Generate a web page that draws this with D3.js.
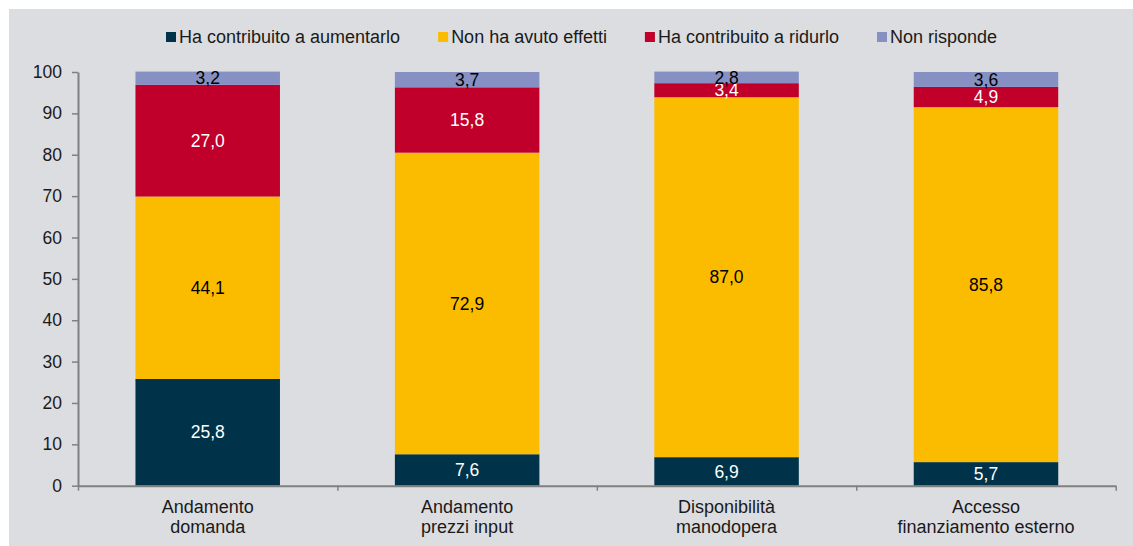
<!DOCTYPE html>
<html>
<head>
<meta charset="utf-8">
<script src="https://cdn.jsdelivr.net/npm/d3@7"></script>
<style>
  body { margin: 0; background: #ffffff; }
  svg { display: block; font-family: "Liberation Sans", Arial, sans-serif; }
</style>
</head>
<body>
<div class="main"></div>
<script>
// Dati (percentuali)
const categories = [
  ["Andamento", "domanda"],
  ["Andamento", "prezzi input"],
  ["Disponibilità", "manodopera"],
  ["Accesso", "finanziamento esterno"]
];
const seriesNames = ["Ha contribuito a aumentarlo", "Non ha avuto effetti", "Ha contribuito a ridurlo", "Non risponde"];
const aumentarlo = [25.8, 7.6, 6.9, 5.7];
const nessunEffetto = [44.1, 72.9, 87.0, 85.8];
const ridurlo = [27.0, 15.8, 3.4, 4.9];
const nonRisponde = [3.2, 3.7, 2.8, 3.6];
const yTicks = [0, 10, 20, 30, 40, 50, 60, 70, 80, 90, 100];

const colors = ["#003349", "#fbbc00", "#c0002a", "#8690c2"];
const labelColors = ["#ffffff", "#000000", "#ffffff", "#000000"];

const W = 1133, H = 546;
const margin = { top: 72, right: 17.3, bottom: 60.3, left: 78 };

const svg = d3.select(".main").append("svg")
    .attr("width", W)
    .attr("height", H);

// sfondo grigio
svg.append("rect")
    .attr("x", 9).attr("y", 9)
    .attr("width", W - 9).attr("height", H - 9)
    .attr("fill", "#dcdde0");

const keys = seriesNames;
const seriesValues = [aumentarlo, nessunEffetto, ridurlo, nonRisponde];
const rows = categories.map(function (c, i) {
  const r = { cat: c.join(" ") };
  keys.forEach(function (k, j) { r[k] = seriesValues[j][i]; });
  return r;
});

const x = d3.scaleBand()
    .domain(rows.map(function (d) { return d.cat; }))
    .range([margin.left, W - margin.right])
    .paddingInner(0.443)
    .paddingOuter(0.2215);

const y = d3.scaleLinear()
    .domain([0, 100])
    .range([H - margin.bottom, margin.top]);

const stacked = d3.stack().keys(keys)(rows);

// barre
const layers = svg.append("g").selectAll("g")
    .data(stacked)
    .join("g")
      .attr("fill", function (d, i) { return colors[i]; });

layers.selectAll("rect")
    .data(function (d) { return d; })
    .join("rect")
      .attr("x", function (d) { return x(d.data.cat); })
      .attr("width", x.bandwidth())
      .attr("y", function (d) { return y(d[1]); })
      .attr("height", function (d) { return y(d[0]) - y(d[1]); });

// etichette dei valori
stacked.forEach(function (layer, i) {
  svg.append("g").selectAll("text")
      .data(layer)
      .join("text")
        .attr("x", function (d) { return x(d.data.cat) + x.bandwidth() / 2; })
        .attr("y", function (d) { return (y(d[0]) + y(d[1])) / 2; })
        .attr("dy", "0.35em")
        .attr("text-anchor", "middle")
        .attr("fill", labelColors[i])
        .style("font-size", "17.5px")
        .text(function (d) { return d3.format(".1f")(d[1] - d[0]).replace(".", ","); });
});

// asse y
const yAxis = svg.append("g")
    .attr("transform", "translate(" + margin.left + ",0)")
    .call(d3.axisLeft(y).tickValues(yTicks).tickSize(6).tickSizeOuter(0).tickPadding(10));
yAxis.select(".domain").attr("stroke", "#808080").attr("stroke-width", 2);
yAxis.selectAll(".tick line").attr("stroke", "#808080").attr("stroke-width", 1.5);
yAxis.selectAll(".tick text")
    .attr("fill", "#1a1a1a")
    .style("font-size", "17.5px")
    .style("font-family", "'Liberation Sans', Arial, sans-serif");

// asse x con tacche ai confini delle categorie
const xb = d3.scaleLinear().domain([0, categories.length]).range(x.range());
const xAxis = svg.append("g")
    .attr("transform", "translate(0," + (H - margin.bottom) + ")")
    .call(d3.axisBottom(xb).tickValues(d3.range(0, categories.length + 1)).tickFormat("").tickSize(5).tickSizeOuter(0));
xAxis.select(".domain").attr("stroke", "#808080").attr("stroke-width", 2);
xAxis.selectAll(".tick line").attr("stroke", "#808080").attr("stroke-width", 1.5);

// etichette delle categorie su due righe
const catLabels = svg.append("g").selectAll("text")
    .data(rows)
    .join("text")
      .attr("x", function (d) { return x(d.cat) + x.bandwidth() / 2; })
      .attr("y", 513)
      .attr("text-anchor", "middle")
      .attr("fill", "#1a1a1a")
      .style("font-size", "18px");
catLabels.each(function (d, i) {
  const t = d3.select(this);
  categories[i].forEach(function (line, j) {
    t.append("tspan")
        .attr("x", x(d.cat) + x.bandwidth() / 2)
        .attr("dy", j === 0 ? 0 : 20)
        .text(line);
  });
});

// legenda
const legend = svg.append("g");
let lx = 166;
seriesNames.forEach(function (name, i) {
  legend.append("rect")
      .attr("x", lx).attr("y", 32)
      .attr("width", 10).attr("height", 10)
      .attr("fill", colors[i]);
  const t = legend.append("text")
      .attr("x", lx + 13).attr("y", 42.5)
      .attr("fill", "#1a1a1a")
      .style("font-size", "18px")
      .text(name);
  lx = lx + 13 + t.node().getComputedTextLength() + 38;
});
</script>
</body>
</html>
